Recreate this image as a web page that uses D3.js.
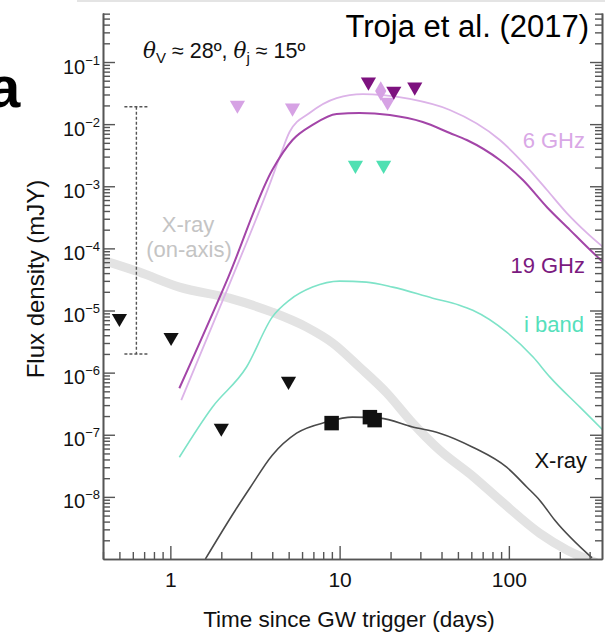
<!DOCTYPE html>
<html>
<head>
<meta charset="utf-8">
<script src="https://cdn.jsdelivr.net/npm/d3@7"></script>
<style>
  body { margin: 0; background: #fff; }
  svg { display: block; font-family: "Liberation Sans", Arial, Helvetica, sans-serif; }
</style>
</head>
<body>
<div id="chart"></div>
<script>
// model curves: time (days) and flux density (mJy)
const xrayOnAxisT = [0.396, 0.656, 1.13, 2.23, 4.0, 6.38, 9.09, 13.1, 19.0, 27, 39, 61.2, 88.5, 152, 220, 323]
const xrayOnAxisF = [6.5e-5, 4.15e-5, 2.38e-5, 1.58e-5, 9.4e-6, 5.4e-6, 3.0e-6, 1.23e-6, 4.7e-7, 1.54e-7, 5.65e-8, 2.15e-8, 8.9e-9, 2.6e-9, 1.4e-9, 8.9e-10]

const ghz6T = [1.16, 2.26, 3.85, 4.54, 5.06, 6.64, 9.6, 13.7, 18.0, 26, 44.8, 88.5, 128, 168, 220, 290, 360]
const ghz6F = [3.6e-7, 2.86e-5, 1.05e-3, 3.56e-3, 7.46e-3, 0.0151, 0.0263, 0.0305, 0.0294, 0.0254, 0.0169, 5.55e-3, 2.04e-3, 8.7e-4, 3.7e-4, 1.76e-4, 1.05e-4]

const ghz19T = [1.13, 2.2, 4.0, 5.27, 6.92, 9.6, 13.1, 19.8, 31, 44.8, 56.4, 88.5, 121, 168, 230, 290, 360]
const ghz19F = [5.6e-7, 3.45e-5, 1.82e-3, 5.55e-3, 9.7e-3, 0.0146, 0.0151, 0.0140, 0.0108, 7.2e-3, 5.55e-3, 2.64e-3, 1.26e-3, 4.6e-4, 1.97e-4, 1.05e-4, 6.0e-5]

const ibandT = [1.13, 1.77, 2.82, 4.0, 5.06, 6.92, 10, 14.4, 20.6, 35.5, 51, 61.2, 97, 139, 175, 263, 360]
const ibandF = [4.35e-8, 2.78e-7, 1.23e-6, 7.83e-6, 1.47e-5, 2.38e-5, 2.97e-5, 2.86e-5, 2.38e-5, 1.58e-5, 1.22e-5, 1.01e-5, 4.49e-6, 1.78e-6, 8.47e-7, 2.78e-7, 1.19e-7]

const xrayT = [1.61, 2.42, 2.97, 4.0, 5.57, 8.37, 11.9, 17.3, 27, 39, 61.2, 97, 128, 152, 187, 310]
const xrayF = [1.0e-9, 6.1e-9, 1.43e-8, 4.69e-8, 1.06e-7, 1.6e-7, 1.92e-7, 1.85e-7, 1.33e-7, 1.06e-7, 6.3e-8, 3.0e-8, 1.43e-8, 8.85e-9, 4.2e-9, 1.04e-9]

// observations
const xrayUlT = [0.5, 1.01, 2.0, 4.99]
const xrayUlF = [7.5e-6, 3.7e-6, 1.28e-7, 7.3e-7]
const xrayDetT = [8.97, 15.1, 16.1]
const xrayDetF = [1.54e-7, 1.92e-7, 1.72e-7]
const ghz6UlT = [2.49, 5.27, 19.2]
const ghz6UlF = [0.0203, 0.0182, 0.0227]
const ghz6DetT = [17.5]
const ghz6DetF = [0.0341]
const ghz19UlT = [14.8, 20.9, 27.8]
const ghz19UlF = [0.0477, 0.0341, 0.0396]
const ibandUlT = [12.4, 18.2]
const ibandUlF = [2.19e-3, 2.19e-3]

// on-axis X-ray range bar
const errT = 0.63
const errF = [0.019, 2e-6]

// ticks
const xMajor = [1, 10, 100]
const xLabels = ["1", "10", "100"]
const yMajor = [1e-8, 1e-7, 1e-6, 1e-5, 1e-4, 1e-3, 1e-2, 1e-1]
const yExp = ["\u22128", "\u22127", "\u22126", "\u22125", "\u22124", "\u22123", "\u22122", "\u22121"]

const W = 605, H = 635
const margin = { left: 103, right: 602, top: 13, bottom: 559 }

const svg = d3.select("#chart").append("svg")
  .attr("width", W).attr("height", H)

const x = d3.scaleLog().domain([0.4, 355]).range([margin.left, margin.right])
const y = d3.scaleLog().domain([1e-9, 0.615]).range([margin.bottom, margin.top])

// minor ticks
const xMinor = [], yMinor = []
for (let e = -1; e <= 2; e++) for (let k = 2; k <= 9; k++) {
  const v = k * Math.pow(10, e)
  if (v >= 0.4 && v <= 355) xMinor.push(v)
}
for (let e = -9; e <= -1; e++) for (let k = 2; k <= 9; k++) {
  const v = k * Math.pow(10, e)
  if (v <= 0.615) yMinor.push(v)
}

svg.append("defs").append("clipPath").attr("id", "plot")
  .append("rect").attr("x", margin.left).attr("y", margin.top)
  .attr("width", margin.right - margin.left).attr("height", margin.bottom - margin.top)

// faint border of the cropped slide
svg.append("line").attr("x1", 77).attr("x2", W).attr("y1", 1).attr("y2", 1)
  .attr("stroke", "#e4e4e4").attr("stroke-width", 2)

const plot = svg.append("g").attr("clip-path", "url(#plot)")

const line = d3.line()
  .x(d => x(d[0])).y(d => y(d[1]))
  .curve(d3.curveMonotoneX)

function series(ts, fs) { return ts.map((t, i) => [t, fs[i]]) }

plot.append("path").datum(series(xrayOnAxisT, xrayOnAxisF))
  .attr("d", line).attr("fill", "none")
  .attr("stroke", "#e3e3e3").attr("stroke-width", 9).attr("stroke-linecap", "round")

plot.append("path").datum(series(ghz6T, ghz6F))
  .attr("d", line).attr("fill", "none")
  .attr("stroke", "#dcb3e8").attr("stroke-width", 1.8)

plot.append("path").datum(series(ghz19T, ghz19F))
  .attr("d", line).attr("fill", "none")
  .attr("stroke", "#a345a8").attr("stroke-width", 2)

plot.append("path").datum(series(ibandT, ibandF))
  .attr("d", line).attr("fill", "none")
  .attr("stroke", "#7ee3c8").attr("stroke-width", 1.6)

plot.append("path").datum(series(xrayT, xrayF))
  .attr("d", line).attr("fill", "none")
  .attr("stroke", "#4a4a4a").attr("stroke-width", 1.6)

// dashed range bar
const eb = svg.append("g").attr("stroke", "#555").attr("stroke-width", 1.4)
  .attr("stroke-dasharray", "3,2")
eb.append("line")
  .attr("x1", x(errT)).attr("x2", x(errT))
  .attr("y1", y(errF[0])).attr("y2", y(errF[1]))
errF.forEach(f => {
  eb.append("line")
    .attr("x1", x(errT) - 12).attr("x2", x(errT) + 12)
    .attr("y1", y(f)).attr("y2", y(f))
})

// markers
const tri = d3.symbol(d3.symbolTriangle, 100)
function triangles(ts, fs, color) {
  svg.append("g").selectAll("path")
    .data(series(ts, fs))
    .join("path")
      .attr("d", tri)
      .attr("transform", d => `translate(${x(d[0])},${y(d[1])}) rotate(180)`)
      .attr("fill", color)
}
triangles(xrayUlT, xrayUlF, "#111")
triangles(ghz6UlT, ghz6UlF, "#d6a2e4")
triangles(ibandUlT, ibandUlF, "#4fe0b2")

svg.append("g").selectAll("path")
  .data(series(ghz6DetT, ghz6DetF))
  .join("path")
    .attr("d", d3.symbol(d3.symbolDiamond, 110))
    .attr("transform", d => `translate(${x(d[0])},${y(d[1])})`)
    .attr("fill", "#d6a2e4")

triangles(ghz19UlT, ghz19UlF, "#7d127f")

svg.append("g").selectAll("path")
  .data(series(xrayDetT, xrayDetF))
  .join("path")
    .attr("d", d3.symbol(d3.symbolSquare, 210))
    .attr("transform", d => `translate(${x(d[0])},${y(d[1])})`)
    .attr("fill", "#111")

// axes
function styleAxis(g) {
  g.select(".domain").attr("stroke", "#555").attr("stroke-width", 1.6)
  g.selectAll(".tick line").attr("stroke", "#555").attr("stroke-width", 1.4)
}

const gx = svg.append("g").attr("transform", `translate(0,${margin.bottom})`)
  .call(d3.axisBottom(x).tickValues(xMajor).tickSizeInner(-13).tickSizeOuter(0)
    .tickPadding(13).tickFormat((d, i) => xLabels[i]))
gx.selectAll(".tick text").attr("font-size", 21).attr("fill", "#111")
gx.attr("font-family", null).attr("font-size", null)
styleAxis(gx)
svg.append("g").attr("transform", `translate(0,${margin.bottom})`)
  .call(d3.axisBottom(x).tickValues(xMinor).tickSizeInner(-7).tickSizeOuter(0).tickFormat(""))
  .call(styleAxis)

const gl = svg.append("g").attr("transform", `translate(${margin.left},0)`)
  .call(d3.axisLeft(y).tickValues(yMajor).tickSizeInner(-12).tickSizeOuter(0).tickFormat(""))
styleAxis(gl)
gl.attr("font-family", null).attr("font-size", null)
gl.selectAll(".tick text").remove()
gl.selectAll(".tick").append("text")
  .attr("x", -3).attr("y", 11)
  .attr("text-anchor", "end").attr("fill", "#111")
  .each(function(d, i) {
    const t = d3.select(this)
    t.append("tspan").attr("font-size", 20).text("10")
    t.append("tspan").attr("font-size", 13).attr("dy", -9).text(yExp[i])
  })
svg.append("g").attr("transform", `translate(${margin.left},0)`)
  .call(d3.axisLeft(y).tickValues(yMinor).tickSizeInner(-7).tickSizeOuter(0).tickFormat(""))
  .call(styleAxis)

svg.append("g").attr("transform", `translate(${margin.right},0)`)
  .call(d3.axisRight(y).tickValues(yMajor).tickSizeInner(-12).tickSizeOuter(0).tickFormat(""))
  .call(styleAxis)
svg.append("g").attr("transform", `translate(${margin.right},0)`)
  .call(d3.axisRight(y).tickValues(yMinor).tickSizeInner(-7).tickSizeOuter(0).tickFormat(""))
  .call(styleAxis)

// axis titles
svg.append("text")
  .attr("x", (203 + 495) / 2).attr("y", 627)
  .attr("text-anchor", "middle").attr("font-size", 22.5).attr("fill", "#111")
  .text("Time since GW trigger (days)")

svg.append("text")
  .attr("transform", "translate(44,279) rotate(-90)")
  .attr("text-anchor", "middle").attr("font-size", 24).attr("fill", "#111")
  .text("Flux density (mJY)")

// annotations (panel letter is cropped at the left edge, as in the source figure)
svg.append("text").attr("x", -12).attr("y", 107)
  .attr("font-size", 58).attr("font-weight", "bold").attr("fill", "#000")
  .text("a")

svg.append("text").attr("x", 589).attr("y", 37)
  .attr("text-anchor", "end").attr("font-size", 31).attr("fill", "#000")
  .text("Troja et al. (2017)")

const th = svg.append("text").attr("x", 143).attr("y", 58)
  .attr("font-size", 21.5).attr("fill", "#111")
th.append("tspan").attr("font-style", "italic").attr("font-family", "DejaVu Serif, serif").text("\u03b8")
th.append("tspan").attr("font-size", 15).attr("dy", 5).text("V")
th.append("tspan").attr("dy", -5).text(" \u2248 28\u00ba, ")
th.append("tspan").attr("font-style", "italic").attr("font-family", "DejaVu Serif, serif").text("\u03b8")
th.append("tspan").attr("font-size", 15).attr("dy", 5).text("j")
th.append("tspan").attr("dy", -5).text(" \u2248 15\u00ba")

const onAxis = svg.append("g").attr("fill", "#c4c4c4").attr("font-size", 22)
  .attr("text-anchor", "middle")
onAxis.append("text").attr("x", 188).attr("y", 232).text("X-ray")
onAxis.append("text").attr("x", 189).attr("y", 257).text("(on-axis)")

const lab = svg.append("g").attr("font-size", 22).attr("text-anchor", "end")
lab.append("text").attr("x", 585).attr("y", 148).attr("fill", "#d9a8e6").text("6 GHz")
lab.append("text").attr("x", 585).attr("y", 273).attr("fill", "#7b1a7f").text("19 GHz")
lab.append("text").attr("x", 584).attr("y", 332).attr("fill", "#55e0bb").text("i band")
lab.append("text").attr("x", 587).attr("y", 468).attr("fill", "#111").text("X-ray")
</script>
</body>
</html>
